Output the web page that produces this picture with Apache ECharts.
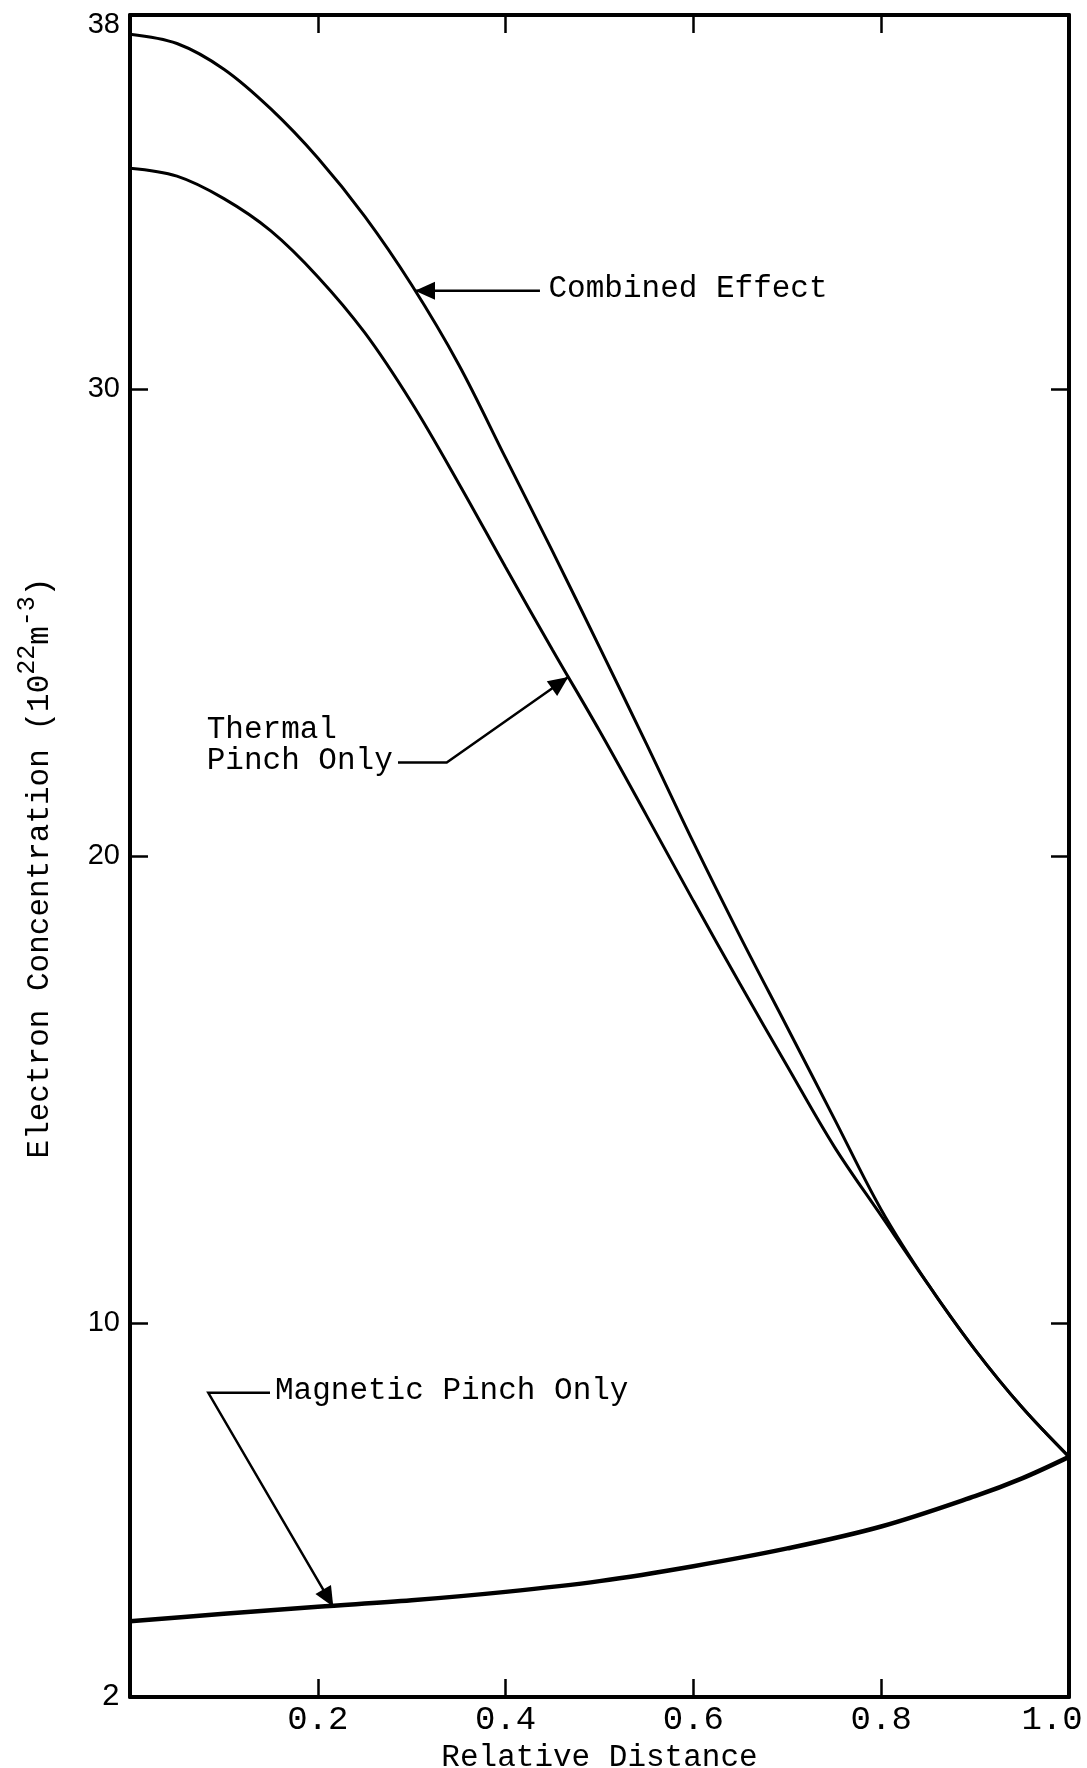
<!DOCTYPE html>
<html>
<head>
<meta charset="utf-8">
<script src="https://cdn.jsdelivr.net/npm/echarts@6/dist/echarts.min.js"></script>
<style>
html, body { margin: 0; padding: 0; background: #fff; }
#chart { width: 1087px; height: 1768px; }
</style>
</head>
<body>
<div id="chart"></div>
<script>
// values: relative distance vs electron concentration (10^22 m^-3)
const distance = [0, 0.05, 0.10, 0.15, 0.20, 0.25, 0.30, 0.35, 0.40, 0.45, 0.50, 0.55, 0.60, 0.65, 0.70, 0.75, 0.80, 0.85, 0.90, 0.95, 1.0];
const combined = [37.59, 37.39, 36.84, 35.99, 34.94, 33.69, 32.22, 30.52, 28.52, 26.52, 24.47, 22.40, 20.29, 18.27, 16.33, 14.38, 12.43, 10.83, 9.43, 8.20, 7.14];
const thermal = [34.72, 34.55, 34.07, 33.38, 32.40, 31.20, 29.70, 27.98, 26.18, 24.41, 22.68, 20.87, 19.04, 17.25, 15.50, 13.78, 12.30, 10.83, 9.43, 8.20, 7.14];

const magneticX = [0, 0.1, 0.2, 0.3, 0.4, 0.5, 0.6, 0.7, 0.8, 0.9, 0.95, 1.0];
const magnetic = [3.62, 3.78, 3.93, 4.07, 4.25, 4.48, 4.80, 5.18, 5.65, 6.30, 6.68, 7.14];

const yLabelValues = [2, 10, 20, 30, 38];
const yTickValues = [10, 20, 30];

// annotation arrows, in data coords: tail ... tip
const combinedArrow = [[0.4366, 32.1], [0.3035, 32.1]];
const thermalArrow = [[0.2854, 22.0], [0.3373, 22.0], [0.4668, 23.83]];
const magneticArrow = [[0.1491, 8.51], [0.0834, 8.51], [0.2165, 3.93]];
const noteLabels = [
    ['Combined Effect', 0.4457, 32.15],
    ['Thermal', 0.0817, 22.7],
    ['Pinch Only', 0.0817, 22.03],
    ['Magnetic Pinch Only', 0.1544, 8.55],
];

const mono = '"Liberation Mono", "Courier New", monospace';
const sans = '"Liberation Sans", Arial, sans-serif';

function pairs(xs, ys) {
    return xs.map((x, i) => [x, ys[i]]);
}

function lineSeries(name, xs, ys, w) {
    return {
        name: name,
        type: 'line',
        data: pairs(xs, ys),
        symbol: 'none',
        smooth: 0.35,
        lineStyle: { color: '#000', width: w },
        z: 3,
    };
}

const chart = echarts.init(document.getElementById('chart'), null, { renderer: 'canvas' });

const xAxisBase = {
    type: 'value',
    min: 0,
    max: 1,
    interval: 0.2,
    splitLine: { show: false },
    axisLine: { show: true, onZero: false, lineStyle: { color: '#000', width: 4 } },
    axisTick: { inside: true, length: 18, lineStyle: { color: '#000', width: 2.5 } },
};
const yAxisBase = {
    type: 'value',
    min: 2,
    max: 38,
    splitLine: { show: false },
    axisLine: { show: true, onZero: false, lineStyle: { color: '#000', width: 4 } },
    axisTick: { inside: true, length: 18, customValues: yTickValues, lineStyle: { color: '#000', width: 2.5 } },
};

chart.setOption({
    animation: false,
    backgroundColor: '#fff',
    grid: { left: 130, right: 18, top: 15, bottom: 71, containLabel: false, outerBoundsMode: 'none' },
    xAxis: [
        Object.assign({}, xAxisBase, {
            position: 'bottom',
            axisLabel: {
                margin: 6,
                fontFamily: mono,
                fontSize: 34,
                color: '#000',
                formatter: function (v) {
                    if (v < 0.01) return '';
                    if (v > 0.99) return '{last|' + v.toFixed(1) + '}';
                    return v.toFixed(1);
                },
                rich: { last: { fontFamily: mono, fontSize: 34, color: '#000', padding: [0, 34, 0, 0] } },
            },
            name: 'Relative Distance',
            nameLocation: 'middle',
            nameGap: 41,
            nameTextStyle: { fontFamily: mono, fontSize: 31, color: '#000' },
        }),
        Object.assign({}, xAxisBase, { position: 'top', axisLabel: { show: false } }),
    ],
    yAxis: [
        Object.assign({}, yAxisBase, {
            position: 'left',
            axisLabel: {
                customValues: yLabelValues,
                margin: 10,
                fontFamily: sans,
                fontSize: 29,
                color: '#000',
                formatter: function (v) {
                    if (v === 2) return '{m|2}';
                    if (v === 38) return '{t|38}';
                    return String(v);
                },
                rich: {
                    m: { fontFamily: mono, fontSize: 31, color: '#000' },
                    t: { fontFamily: sans, fontSize: 29, color: '#000', padding: [20, 0, 0, 0] },
                },
            },
            name: 'Electron Concentration (10{sup|22}m{sup|-3})',
            nameLocation: 'middle',
            nameGap: 65,
            nameTextStyle: {
                fontFamily: mono,
                fontSize: 31,
                lineHeight: 50,
                color: '#000',
                padding: [0, 24, 0, 0],
                rich: { sup: { fontFamily: mono, fontSize: 25, lineHeight: 25, color: '#000', verticalAlign: 'top' } },
            },
        }),
        Object.assign({}, yAxisBase, { position: 'right', axisLabel: { show: false } }),
    ],
    series: [
        lineSeries('Combined Effect', distance, combined, 3),
        lineSeries('Thermal Pinch Only', distance, thermal, 3),
        lineSeries('Magnetic Pinch Only', magneticX, magnetic, 4.5),
    ],
});

// arrows and annotation text, placed through the chart's own scales
function px(p) {
    return chart.convertToPixel({ xAxisIndex: 0, yAxisIndex: 0 }, p);
}

function arrowHead(from, tip, len, half) {
    const dx = tip[0] - from[0], dy = tip[1] - from[1];
    const d = Math.hypot(dx, dy);
    const ux = dx / d, uy = dy / d;
    const bx = tip[0] - ux * len, by = tip[1] - uy * len;
    return [tip, [bx - uy * half, by + ux * half], [bx + uy * half, by - ux * half]];
}

const graphics = [];
[combinedArrow, thermalArrow, magneticArrow].forEach(function (arrow) {
    const pts = arrow.map(px);
    graphics.push({
        type: 'polyline',
        shape: { points: pts },
        style: { stroke: '#000', lineWidth: 2.5, fill: null },
        z: 10,
    });
    graphics.push({
        type: 'polygon',
        shape: { points: arrowHead(pts[pts.length - 2], pts[pts.length - 1], 20, 9) },
        style: { fill: '#000' },
        z: 10,
    });
});
noteLabels.forEach(function (n) {
    const p = px([n[1], n[2]]);
    graphics.push({
        type: 'text',
        x: p[0],
        y: p[1],
        style: {
            text: n[0],
            fontFamily: mono,
            fontSize: 31,
            fill: '#000',
            align: 'left',
            verticalAlign: 'middle',
        },
        z: 10,
    });
});

chart.setOption({ graphic: graphics });
</script>
</body>
</html>
